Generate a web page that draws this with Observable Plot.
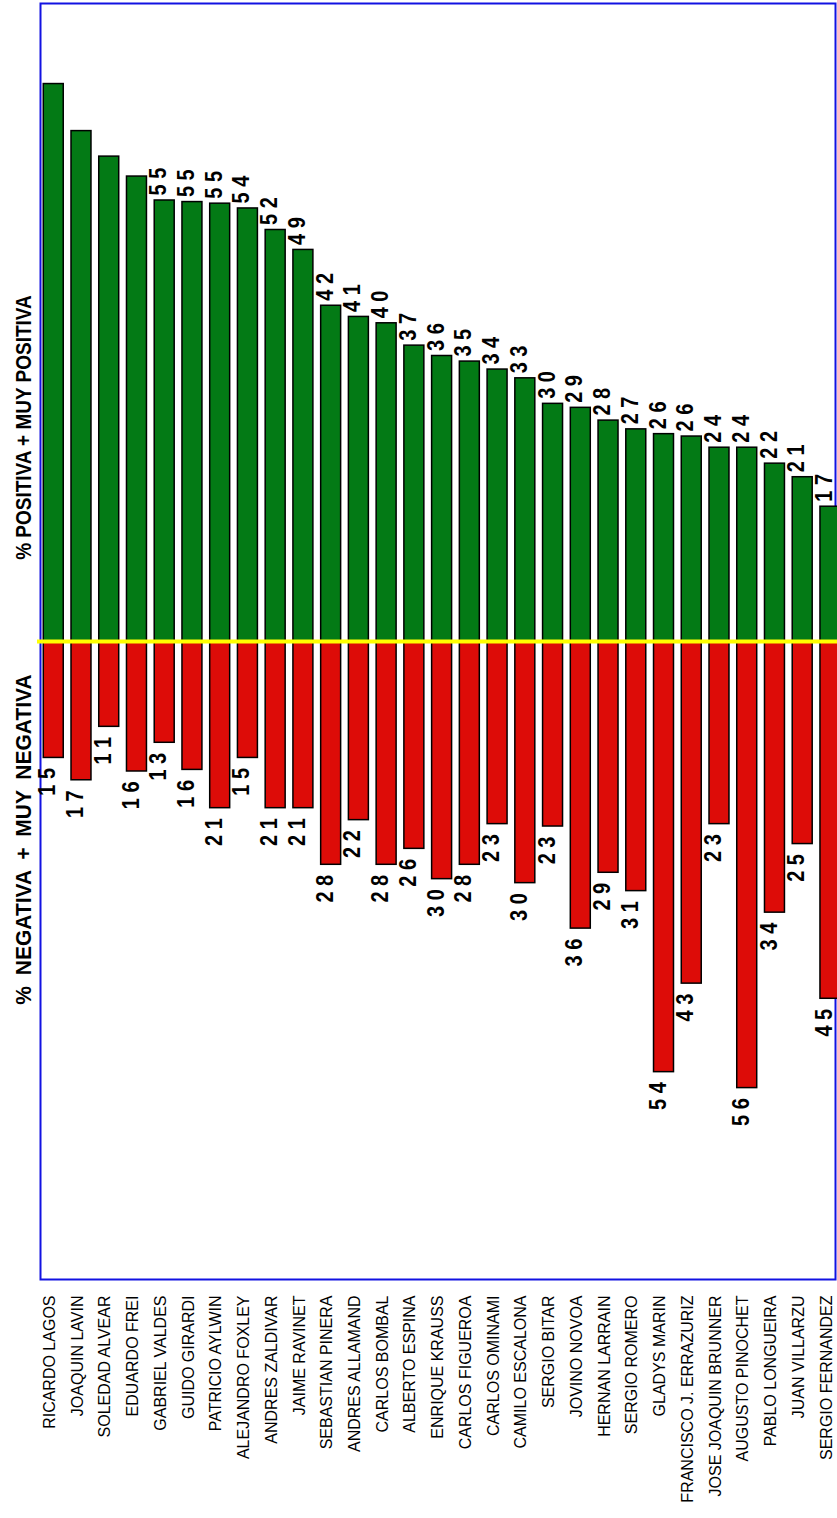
<!DOCTYPE html>
<html><head><meta charset="utf-8">
<script src="https://cdn.jsdelivr.net/npm/d3@7"></script>
<script src="https://cdn.jsdelivr.net/npm/@observablehq/plot@0.6"></script>
<style>body{margin:0;background:#fff}</style>
</head><body><div id="chart"></div>
<script>
const names = ["RICARDO LAGOS","JOAQUIN LAVIN","SOLEDAD ALVEAR","EDUARDO FREI","GABRIEL VALDES","GUIDO GIRARDI","PATRICIO AYLWIN","ALEJANDRO FOXLEY","ANDRES ZALDIVAR","JAIME RAVINET","SEBASTIAN PINERA","ANDRES ALLAMAND","CARLOS BOMBAL","ALBERTO ESPINA","ENRIQUE KRAUSS","CARLOS FIGUEROA","CARLOS OMINAMI","CAMILO ESCALONA","SERGIO BITAR","JOVINO NOVOA","HERNAN LARRAIN","SERGIO ROMERO","GLADYS MARIN","FRANCISCO J. ERRAZURIZ","JOSE JOAQUIN BRUNNER","AUGUSTO PINOCHET","PABLO LONGUEIRA","JUAN VILLARZU","SERGIO FERNANDEZ"];
const positive = [69.9,64.0,60.8,58.3,55.3,55.1,54.9,54.3,51.6,49.1,42.1,40.7,39.9,37.1,35.8,35.1,34.1,33.0,29.8,29.3,27.7,26.6,26.0,25.7,24.3,24.3,22.3,20.6,16.9];
const negative = [14.6,17.4,10.7,16.3,12.7,16.1,20.9,14.6,20.9,20.9,28.0,22.4,28.0,26.0,29.8,28.0,22.9,30.3,23.2,36.0,29.0,31.3,54.0,42.9,22.9,56.0,34.0,25.4,44.8];
const positiveLabels = [null,null,null,null,55,55,55,54,52,49,42,41,40,37,36,35,34,33,30,29,28,27,26,26,24,24,22,21,17];
const negativeLabels = [15,17,11,16,13,16,21,15,21,21,28,22,28,26,30,28,23,30,23,36,29,31,54,43,23,56,34,25,45];
const titlePositive = "% POSITIVA + MUY POSITIVA";
const titleNegative = "% NEGATIVA + MUY NEGATIVA";

const rows = names.map((name, i) => ({
  name, pos: positive[i], neg: -negative[i],
  posLabel: positiveLabels[i], negLabel: negativeLabels[i]
}));
const spaced = v => v == null ? "" : String(v).split("").join(" ");

const chart = Plot.plot({
  width: 837, height: 1518,
  marginTop: 3, marginBottom: 239, marginLeft: 40, marginRight: 2,
  style: {fontFamily: "'Liberation Sans', Arial, sans-serif", background: "white", color: "black"},
  x: {domain: names, range: [35.5, 847.7], padding: 0.28, round: false, axis: null},
  y: {domain: [-80, 80], axis: null},
  marks: [
    Plot.frame({stroke: "#1212e2", strokeWidth: 2}),
    Plot.barY(rows, {x: "name", y1: 0, y2: "pos", fill: "#037a15", stroke: "#000", strokeWidth: 1.5}),
    Plot.barY(rows, {x: "name", y1: 0, y2: "neg", fill: "#dd0c08", stroke: "#000", strokeWidth: 1.5}),
    Plot.ruleY([0], {stroke: "#ffff00", strokeWidth: 4, insetLeft: -3, insetRight: -4}),
    Plot.text(rows.filter(d => d.posLabel != null), {
      x: "name", y: "pos", text: d => spaced(d.posLabel), rotate: -90,
      textAnchor: "start", dx: -6, dy: -5, fontSize: 20, fontWeight: "bold", fill: "#000"
    }),
    Plot.text(rows, {
      x: "name", y: "neg", text: d => spaced(d.negLabel), rotate: -90,
      textAnchor: "end", dx: -6, dy: 10, fontSize: 20, fontWeight: "bold", fill: "#000"
    }),
    Plot.axisX({anchor: "bottom", tickRotate: -90, tickSize: 0, tickPadding: 16, dx: -4, fontSize: 16, label: null}),
    Plot.text([titlePositive], {text: d => d, frameAnchor: "left", textAnchor: "middle", rotate: -90, dx: -17, dy: -214, fontSize: 19, fontWeight: "bold", fill: "#000"}),
    Plot.text([titleNegative], {text: d => d, frameAnchor: "left", textAnchor: "middle", rotate: -90, dx: -17, dy: 198, fontSize: 21, fontWeight: "bold", fill: "#000"})
  ]
});
const svg = d3.select(chart);
svg.selectAll('g[font-weight="bold"] text').attr("transform", function () {
  const stretch = this.textContent === titleNegative ? 1.08 : 1.18;
  return (this.getAttribute("transform") || "") + ` scale(1,${stretch})`;
});
svg.selectAll("text").filter(function () { return this.textContent === titleNegative; })
  .style("word-spacing", "5px");
document.getElementById("chart").appendChild(chart);
</script>
</body></html>
